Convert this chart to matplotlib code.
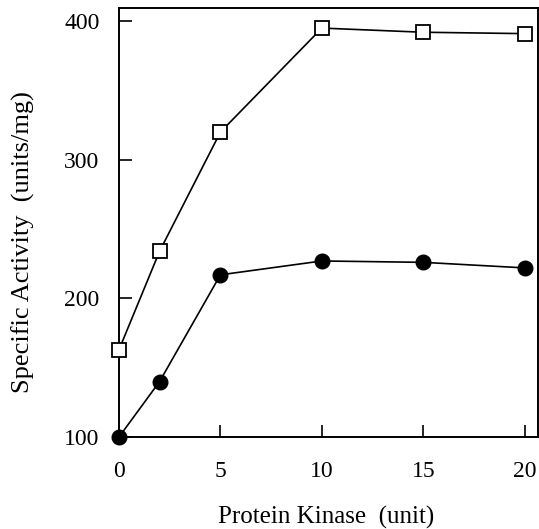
import matplotlib
matplotlib.use('Agg')
import matplotlib.pyplot as plt

# protein kinase units and specific activity (units/mg)
kinase = [0, 2, 5, 10, 15, 20]
open_sq = [163, 234, 320, 395, 392, 391]
filled_circ = [100, 140, 217, 227, 226, 222]

xticks = [0, 5, 10, 15, 20]
yticks = [100, 200, 300, 400]

plt.rcParams['font.family'] = ['Liberation Serif', 'DejaVu Serif']

fig = plt.figure(figsize=(5.39, 5.29), dpi=100)
ax = fig.add_axes([0.2208, 0.1739, 0.7772, 0.811])

ax.plot(kinase, open_sq, color='black', lw=1.2, marker='s', ms=9.5,
        mfc='white', mec='black', mew=1.3, clip_on=False, zorder=3)
ax.plot(kinase, filled_circ, color='black', lw=1.2, marker='o', ms=10.5,
        mfc='black', mec='black', clip_on=False, zorder=3)

ax.set_xlim(0, 20.65)
ax.set_ylim(100, 409.5)
ax.set_xticks(xticks)
ax.set_yticks(yticks)
ax.tick_params(direction='in', length=9, width=1.2, labelsize=17, pad=14)
ax.tick_params(axis='x', pad=17)
for s in ax.spines.values():
    s.set_linewidth(1.4)

ax.set_xlabel('Protein Kinase  (unit)', fontsize=18)
ax.set_ylabel('Specific Activity  (units/mg)', fontsize=19)
ax.xaxis.set_label_coords(0.495, -0.16)
ax.yaxis.set_label_coords(-0.2, 0.455)

fig.savefig('out.png', dpi=100)
